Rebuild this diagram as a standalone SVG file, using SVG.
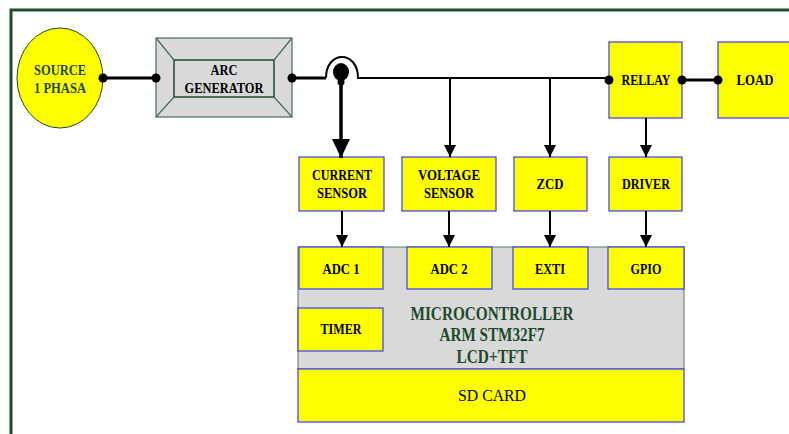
<svg xmlns="http://www.w3.org/2000/svg" width="789" height="434" viewBox="0 0 789 434">
<style>
.box{fill:#ffff00;stroke:#3a3aff;stroke-width:1.2}
.lbl{font-family:"Liberation Serif","Times New Roman",serif;font-weight:bold;font-size:15px;fill:#000;text-anchor:middle}
.grn{fill:#1d4a2c}
.ln{stroke:#000;fill:none}
.mc{font-family:"Liberation Serif","Times New Roman",serif;font-size:19px;fill:#1d4a2c;text-anchor:middle;font-weight:bold}
</style>
<defs>
<marker id="ah" markerUnits="userSpaceOnUse" markerWidth="12" markerHeight="12" refX="12" refY="6" orient="auto">
<path d="M0,0 L12,6 L0,12 z" fill="#000"/>
</marker>
<marker id="bh" markerUnits="userSpaceOnUse" markerWidth="19" markerHeight="18" refX="19" refY="9" orient="auto">
<path d="M0,0 L19,9 L0,18 z" fill="#000"/>
</marker>
</defs>
<rect width="789" height="434" fill="#fff"/>
<rect x="11" y="10" width="800" height="460" fill="none" stroke="#1f4a2f" stroke-width="3"/>

<g id="source">
<ellipse cx="60" cy="78" rx="43" ry="50" fill="#ffff00" stroke="#1d4a2c" stroke-width="1"/>
<text class="lbl grn" x="60" y="75" textLength="52" lengthAdjust="spacingAndGlyphs">SOURCE</text>
<text class="lbl grn" x="60" y="93" textLength="52" lengthAdjust="spacingAndGlyphs">1 PHASA</text>
</g>

<g id="arc-generator">
<rect x="156" y="38" width="136" height="79" fill="#d9d9d9" stroke="#4a6b57" stroke-width="1.2"/>
<rect x="174" y="60" width="100" height="37" fill="#d9d9d9" stroke="#1d4a2c" stroke-width="1.5"/>
<path d="M156,38 L174,60 M292,38 L274,60 M156,117 L174,97 M292,117 L274,97" stroke="#4a6b57" stroke-width="1.2"/>
<text class="lbl" x="224" y="75" textLength="27" lengthAdjust="spacingAndGlyphs">ARC</text>
<text class="lbl" x="224" y="93" textLength="79" lengthAdjust="spacingAndGlyphs">GENERATOR</text>
</g>

<g id="rellay">
<rect class="box" x="609" y="42" width="73" height="76"/>
<text class="lbl" x="646" y="85" textLength="49" lengthAdjust="spacingAndGlyphs">RELLAY</text>
</g>
<g id="load">
<rect class="box" x="718" y="42" width="75" height="76"/>
<text class="lbl" x="755" y="85" textLength="37" lengthAdjust="spacingAndGlyphs">LOAD</text>
</g>

<g id="current-sensor">
<rect class="box" x="299" y="157" width="85" height="54"/>
<text class="lbl" x="342" y="180" textLength="60" lengthAdjust="spacingAndGlyphs">CURRENT</text>
<text class="lbl" x="342" y="198" textLength="50" lengthAdjust="spacingAndGlyphs">SENSOR</text>
</g>
<g id="voltage-sensor">
<rect class="box" x="402" y="157" width="94" height="54"/>
<text class="lbl" x="449" y="180" textLength="62" lengthAdjust="spacingAndGlyphs">VOLTAGE</text>
<text class="lbl" x="449" y="198" textLength="50" lengthAdjust="spacingAndGlyphs">SENSOR</text>
</g>
<g id="zcd">
<rect class="box" x="514" y="157" width="73" height="54"/>
<text class="lbl" x="550" y="189" textLength="27" lengthAdjust="spacingAndGlyphs">ZCD</text>
</g>
<g id="driver">
<rect class="box" x="609" y="157" width="73" height="54"/>
<text class="lbl" x="646" y="189" textLength="48" lengthAdjust="spacingAndGlyphs">DRIVER</text>
</g>

<g id="microcontroller">
<rect x="298" y="247" width="386" height="122" fill="#d9d9d9" stroke="#5a7a66" stroke-width="1"/>
<text class="mc" x="492" y="320" textLength="163" lengthAdjust="spacingAndGlyphs">MICROCONTROLLER</text>
<text class="mc" x="492" y="341" textLength="105" lengthAdjust="spacingAndGlyphs">ARM STM32F7</text>
<text class="mc" x="492" y="363" textLength="71" lengthAdjust="spacingAndGlyphs">LCD+TFT</text>
</g>
<g id="adc1">
<rect class="box" x="299" y="247" width="84" height="42"/>
<text class="lbl" x="341" y="274" textLength="37" lengthAdjust="spacingAndGlyphs">ADC 1</text>
</g>
<g id="adc2">
<rect class="box" x="407" y="247" width="85" height="42"/>
<text class="lbl" x="449" y="274" textLength="37" lengthAdjust="spacingAndGlyphs">ADC 2</text>
</g>
<g id="exti">
<rect class="box" x="513" y="247" width="75" height="42"/>
<text class="lbl" x="550" y="274" textLength="30" lengthAdjust="spacingAndGlyphs">EXTI</text>
</g>
<g id="gpio">
<rect class="box" x="608" y="247" width="76" height="42"/>
<text class="lbl" x="646" y="274" textLength="31" lengthAdjust="spacingAndGlyphs">GPIO</text>
</g>
<g id="timer">
<rect class="box" x="298" y="308" width="85" height="43"/>
<text class="lbl" x="341" y="334" textLength="41" lengthAdjust="spacingAndGlyphs">TIMER</text>
</g>
<g id="sd-card">
<rect class="box" x="298" y="369" width="386" height="53"/>
<text x="492" y="401" font-family="'Liberation Serif','Times New Roman',serif" font-size="17.5" text-anchor="middle" fill="#000" textLength="68" lengthAdjust="spacingAndGlyphs">SD CARD</text>
</g>

<g id="connectors">
<path class="ln" stroke-width="3" d="M103,78 H156"/>
<path class="ln" stroke-width="3" d="M292,78 H326"/>
<path class="ln" stroke-width="2" d="M326,78 C326,50 358,50 358,78 H609"/>
<path class="ln" stroke-width="3" d="M682,80 H718"/>
<path class="ln" stroke-width="3.5" d="M341,82 V158" marker-end="url(#bh)"/>
<path class="ln" stroke-width="2" d="M450,78 V157" marker-end="url(#ah)"/>
<path class="ln" stroke-width="2" d="M550,78 V157" marker-end="url(#ah)"/>
<path class="ln" stroke-width="2" d="M646,118 V157" marker-end="url(#ah)"/>
<path class="ln" stroke-width="2" d="M342,211 V247" marker-end="url(#ah)"/>
<path class="ln" stroke-width="2" d="M449,211 V247" marker-end="url(#ah)"/>
<path class="ln" stroke-width="2" d="M550,211 V247" marker-end="url(#ah)"/>
<path class="ln" stroke-width="2" d="M646,211 V247" marker-end="url(#ah)"/>
<circle cx="103" cy="78" r="4.5"/>
<circle cx="156" cy="78" r="4.5"/>
<circle cx="292" cy="78" r="4.5"/>
<ellipse cx="341" cy="72" rx="8" ry="9"/>
<circle cx="341" cy="82" r="3.5"/>
<circle cx="609" cy="80" r="4.5"/>
<circle cx="682" cy="80" r="4.5"/>
<circle cx="718" cy="80" r="4.5"/>
</g>
</svg>
